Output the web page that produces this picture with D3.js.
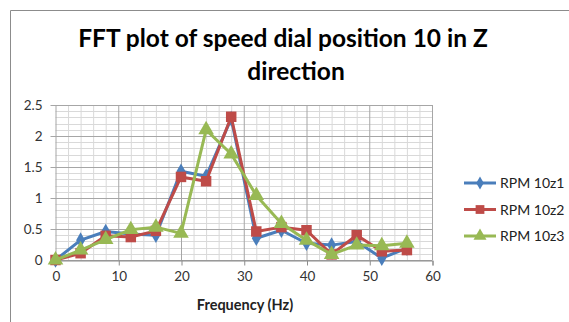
<!DOCTYPE html>
<html>
<head>
<meta charset="utf-8">
<script src="https://cdn.jsdelivr.net/npm/d3@7"></script>
<style>
  html, body { margin: 0; padding: 0; background: #fff; }
  svg { display: block; font-family: Lato, "Open Sans", sans-serif; }
</style>
</head>
<body>
<svg id="chart" width="569" height="322"></svg>
<script>
// Frequency bins (Hz) and FFT amplitudes for the three runs
const frequencies = [0, 4, 8, 12, 16, 20, 24, 28, 32, 36, 40, 44, 48, 52, 56];
const rpm10z1 = [0, 0.32, 0.46, 0.42, 0.40, 1.43, 1.35, 2.28, 0.35, 0.48, 0.27, 0.24, 0.30, 0.03, 0.19];
const rpm10z2 = [0, 0.11, 0.39, 0.37, 0.47, 1.34, 1.27, 2.31, 0.46, 0.53, 0.48, 0.09, 0.40, 0.14, 0.16];
const rpm10z3 = [0, 0.16, 0.33, 0.49, 0.53, 0.43, 2.10, 1.71, 1.04, 0.59, 0.32, 0.09, 0.24, 0.23, 0.27];
const seriesNames = ["RPM 10z1", "RPM 10z2", "RPM 10z3"];
const xTicks = [0, 10, 20, 30, 40, 50, 60];
const yTicks = [0, 0.5, 1, 1.5, 2, 2.5];

const series = [
  { name: seriesNames[0], values: rpm10z1, color: "#4a7ebb", symbol: d3.symbolDiamond, size: 70 },
  { name: seriesNames[1], values: rpm10z2, color: "#be4b48", symbol: d3.symbolSquare, size: 110 },
  { name: seriesNames[2], values: rpm10z3, color: "#98b954", symbol: d3.symbolTriangle, size: 105 }
];

const svg = d3.select("#chart");
const plot = { left: 55.5, right: 432, top: 105, bottom: 260 };

const x = d3.scaleLinear().domain([0, 60]).range([plot.left, plot.right]);
const y = d3.scaleLinear().domain([0, 2.5]).range([plot.bottom, plot.top]);

// Outer chart frame (top and left edges)
svg.append("path")
  .attr("d", "M10.5,322 L10.5,10.5 L569,10.5")
  .attr("fill", "none").attr("stroke", "#8c8c8c").attr("stroke-width", 1);

// Title
const title = svg.append("text")
  .attr("text-anchor", "middle").attr("font-weight", "bold")
  .attr("font-size", 24.5).attr("fill", "#000");
title.append("tspan").attr("x", 283).attr("y", 47).text("FFT plot of speed dial position 10 in Z");
title.append("tspan").attr("x", 296).attr("y", 80).text("direction");

// Grid: minor lines
const grid = svg.append("g");
grid.selectAll(".vminor").data(d3.range(0, 61, 2).filter(v => v % 10 !== 0)).join("line")
  .attr("x1", d => x(d) + 0.5).attr("x2", d => x(d) + 0.5)
  .attr("y1", plot.top).attr("y2", plot.bottom)
  .attr("stroke", "#d9d9d9").attr("stroke-width", 1);
grid.selectAll(".hminor").data(d3.range(1, 25).filter(v => v % 5 !== 0).map(v => v / 10)).join("line")
  .attr("x1", plot.left).attr("x2", plot.right)
  .attr("y1", d => Math.round(y(d)) + 0.5).attr("y2", d => Math.round(y(d)) + 0.5)
  .attr("stroke", "#d9d9d9").attr("stroke-width", 1);

// Grid: major lines
grid.selectAll(".vmajor").data(xTicks).join("line")
  .attr("x1", d => x(d) + 0.5).attr("x2", d => x(d) + 0.5)
  .attr("y1", plot.top).attr("y2", plot.bottom)
  .attr("stroke", "#a6a6a6").attr("stroke-width", 1);
grid.selectAll(".hmajor").data(yTicks).join("line")
  .attr("x1", plot.left - 5).attr("x2", plot.right)
  .attr("y1", d => Math.round(y(d)) + 0.5).attr("y2", d => Math.round(y(d)) + 0.5)
  .attr("stroke", "#a6a6a6").attr("stroke-width", 1);

// Axes
const xAxis = d3.axisBottom(x).tickValues(xTicks).tickSize(5).tickPadding(6).tickFormat(d3.format("d"));
const gx = svg.append("g").attr("transform", `translate(0.5,${Math.round(plot.bottom) + 0.5})`).call(xAxis);
gx.select(".domain").attr("stroke", "#8c8c8c");
gx.selectAll(".tick line").attr("stroke", "#8c8c8c");
gx.selectAll(".tick text").attr("font-size", 13.5).attr("fill", "#333").attr("font-family", "Lato, sans-serif");

const yAxis = d3.axisLeft(y).tickValues(yTicks).tickSize(0).tickPadding(13).tickFormat(d => d3.format("")(d));
const gy = svg.append("g").attr("transform", `translate(${plot.left},0.5)`).call(yAxis);
gy.select(".domain").remove();
gy.selectAll(".tick text").attr("font-size", 13.5).attr("fill", "#333").attr("font-family", "Lato, sans-serif");

// Axis title
svg.append("text")
  .attr("x", 245).attr("y", 310).attr("text-anchor", "middle")
  .attr("font-weight", "bold").attr("font-size", 14.5).attr("fill", "#222")
  .text("Frequency (Hz)");

// Series lines and markers
const line = d3.line().x((d, i) => x(frequencies[i])).y(d => y(d));
series.forEach(s => {
  const g = svg.append("g");
  g.append("path").datum(s.values)
    .attr("d", line).attr("fill", "none")
    .attr("stroke", s.color).attr("stroke-width", 3).attr("stroke-linejoin", "round");
  g.selectAll("path.m").data(s.values).join("path").attr("class", "m")
    .attr("transform", (d, i) => `translate(${x(frequencies[i])},${y(d)})`)
    .attr("d", d3.symbol(s.symbol, s.size))
    .attr("fill", s.color);
});

// Legend
const legend = svg.append("g");
series.forEach((s, i) => {
  const ly = 183 + i * 26.5;
  legend.append("line")
    .attr("x1", 464).attr("x2", 496).attr("y1", ly).attr("y2", ly)
    .attr("stroke", s.color).attr("stroke-width", 3);
  legend.append("path")
    .attr("transform", `translate(480,${ly})`)
    .attr("d", d3.symbol(s.symbol, s.size * 0.7))
    .attr("fill", s.color);
  legend.append("text")
    .attr("x", 500).attr("y", ly + 5)
    .attr("font-size", 14).attr("fill", "#222")
    .text(s.name);
});
</script>
</body>
</html>
